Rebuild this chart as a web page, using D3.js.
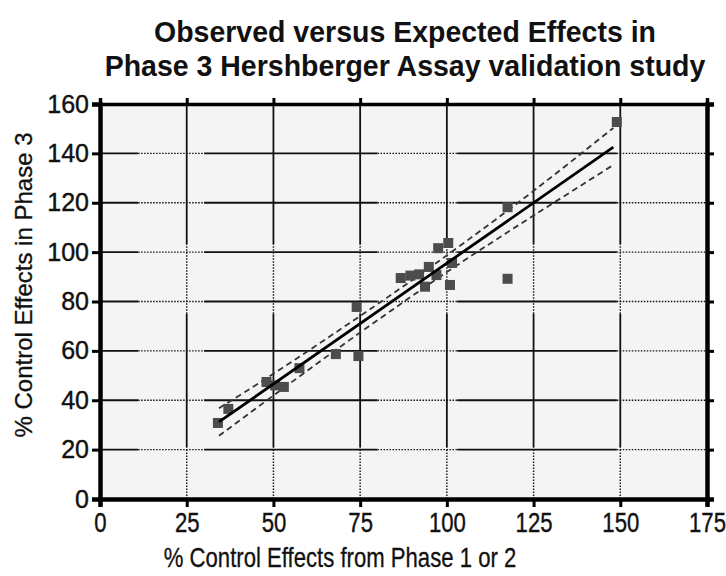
<!DOCTYPE html>
<html>
<head>
<meta charset="utf-8">
<script src="https://cdn.jsdelivr.net/npm/d3@7"></script>
<style>
  body { margin: 0; background: #fff; }
  svg { display: block; font-family: 'Liberation Sans', Arial, sans-serif; }
</style>
</head>
<body>
<svg></svg>
<script>
// observed vs expected values
const expected = [34, 37, 48, 50.5, 53, 57.5, 68, 74, 74.5, 86.7, 89.5, 92, 93.7, 94.8, 97, 97.5, 100.4, 100.9, 101.5, 117.5, 117.5, 149];
const observed = [30.8, 36.5, 47.4, 46, 45.4, 53, 58.7, 77.8, 57.9, 89.5, 90.5, 91, 86, 94, 90.7, 101.6, 103.7, 86.7, 95.6, 118.2, 89.2, 152.7];

// regression line and its dashed confidence band
const fitX = [34.3, 148];
const fitY = [31.2, 142.5];
const bandX = [34.3, 50, 70, 88, 105, 125, 148];
const bandUpper = [36.8, 50.7, 69.4, 86.7, 103.8, 124.8, 150.3];
const bandLower = [25.6, 41.9, 62.4, 80.3, 96.6, 114.8, 135.3];

const xTicks = [0, 25, 50, 75, 100, 125, 150, 175];
const yTicks = [0, 20, 40, 60, 80, 100, 120, 140, 160];

const titleLines = ['Observed versus Expected Effects in', 'Phase 3 Hershberger Assay validation study'];
const xLabel = '% Control Effects from Phase 1 or 2';
const yLabel = '% Control Effects in Phase 3';

// gridlines come out partly dotted in the original
const hDotted = [[11, 30], [80, 103], [149, 175]];
const vDotted = [[0, 21], [75, 103]];

draw();

function draw() {
  const width = 726;
  const height = 576;
  const margin = { top: 104, right: 19, bottom: 77, left: 100 };

  const svg = d3.select('svg')
    .attr('width', width)
    .attr('height', height);

  const x = d3.scaleLinear().domain([0, 175]).range([margin.left, width - margin.right]);
  const y = d3.scaleLinear().domain([0, 160]).range([height - margin.bottom, margin.top]);

  svg.append('rect')
    .attr('x', x(0)).attr('y', y(160))
    .attr('width', x(175) - x(0)).attr('height', y(0) - y(160))
    .attr('fill', '#f4f4f4');

  // split a line into solid / dotted pieces
  function pieces(lo, hi, dotted) {
    const out = [];
    let cur = lo;
    dotted.forEach(([a, b]) => {
      if (a > cur) out.push([cur, a, false]);
      out.push([Math.max(a, lo), Math.min(b, hi), true]);
      cur = b;
    });
    if (cur < hi) out.push([cur, hi, false]);
    return out;
  }

  const grid = svg.append('g');
  yTicks.slice(1, -1).forEach((v) => {
    pieces(0, 175, hDotted).forEach(([a, b, dot]) => {
      grid.append('line')
        .attr('x1', x(a)).attr('x2', x(b))
        .attr('y1', y(v)).attr('y2', y(v))
        .attr('stroke', '#111')
        .attr('stroke-width', dot ? 1.4 : 1.8)
        .attr('stroke-dasharray', dot ? '1.5,1.5' : null);
    });
  });
  xTicks.slice(1, -1).forEach((v) => {
    pieces(0, 160, vDotted).forEach(([a, b, dot]) => {
      grid.append('line')
        .attr('x1', x(v)).attr('x2', x(v))
        .attr('y1', y(a)).attr('y2', y(b))
        .attr('stroke', '#111')
        .attr('stroke-width', dot ? 1.4 : 1.8)
        .attr('stroke-dasharray', dot ? '1.5,1.5' : null);
    });
  });

  // confidence band
  const bandLine = d3.line().curve(d3.curveNatural).x((d) => x(d[0])).y((d) => y(d[1]));
  [bandUpper, bandLower].forEach((band) => {
    svg.append('path')
      .datum(bandX.map((v, i) => [v, band[i]]))
      .attr('d', bandLine)
      .attr('fill', 'none')
      .attr('stroke', '#333')
      .attr('stroke-width', 1.8)
      .attr('stroke-dasharray', '6,4');
  });

  // points
  const size = 10;
  svg.append('g')
    .selectAll('rect')
    .data(expected.map((v, i) => [v, observed[i]]))
    .enter()
    .append('rect')
      .attr('x', (d) => x(d[0]) - size / 2)
      .attr('y', (d) => y(d[1]) - size / 2)
      .attr('width', size)
      .attr('height', size)
      .attr('fill', '#4c4c4c');

  svg.append('line')
    .attr('x1', x(fitX[0])).attr('y1', y(fitY[0]))
    .attr('x2', x(fitX[1])).attr('y2', y(fitY[1]))
    .attr('stroke', '#000')
    .attr('stroke-width', 2.8);

  // axes on all four sides
  const left = svg.append('g')
    .attr('transform', `translate(${x(0)},0)`)
    .call(d3.axisLeft(y).tickValues(yTicks).tickSize(8).tickPadding(3));
  const bottom = svg.append('g')
    .attr('transform', `translate(0,${y(0)})`)
    .call(d3.axisBottom(x).tickValues(xTicks).tickSize(8).tickPadding(6));
  const right = svg.append('g')
    .attr('transform', `translate(${x(175)},0)`)
    .call(d3.axisRight(y).tickValues(yTicks).tickSize(7).tickFormat(''));
  const top = svg.append('g')
    .attr('transform', `translate(0,${y(160)})`)
    .call(d3.axisTop(x).tickValues(xTicks).tickSize(6).tickFormat(''));

  [left, bottom, right, top].forEach((g) => {
    g.select('.domain').attr('stroke', '#000').attr('stroke-width', 4.5);
    g.selectAll('.tick line').attr('stroke', '#000').attr('stroke-width', 3);
  });
  top.select('.domain').attr('stroke-width', 3.5);

  left.selectAll('.tick text')
    .attr('font-size', 25)
    .attr('fill', '#111')
    .attr('stroke', '#111')
    .attr('stroke-width', 0.4)
    .style('font-family', "'Liberation Sans', Arial, sans-serif");
  bottom.selectAll('.tick text')
    .attr('font-size', 27)
    .attr('fill', '#111')
    .attr('stroke', '#111')
    .attr('stroke-width', 0.4)
    .attr('transform', 'scale(0.82,1)')
    .style('font-family', "'Liberation Sans', Arial, sans-serif");

  svg.append('text')
    .attr('transform', `translate(340,567) scale(0.82,1)`)
    .attr('text-anchor', 'middle')
    .attr('font-size', 27)
    .attr('fill', '#111')
    .attr('stroke', '#111')
    .attr('stroke-width', 0.3)
    .text(xLabel);

  svg.append('text')
    .attr('transform', `translate(32,285) rotate(-90)`)
    .attr('text-anchor', 'middle')
    .attr('font-size', 24)
    .attr('fill', '#111')
    .attr('stroke', '#111')
    .attr('stroke-width', 0.3)
    .text(yLabel);

  svg.append('g')
    .selectAll('text')
    .data(titleLines)
    .enter()
    .append('text')
      .attr('transform', (d, i) => `translate(405,${42 + i * 34}) scale(0.95,1)`)
      .attr('text-anchor', 'middle')
      .attr('font-size', 30)
      .attr('font-weight', 'bold')
      .attr('fill', '#111')
      .text((d) => d);
}
</script>
</body>
</html>
